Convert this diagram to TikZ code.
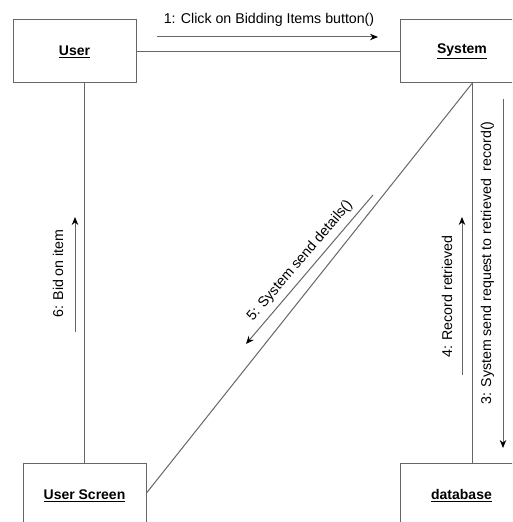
\documentclass[tikz,border=0pt]{standalone}
\usepackage{fontspec}
\setmainfont{Liberation Sans}
\usetikzlibrary{calc,arrows.meta}
\begin{document}
\begin{tikzpicture}[x=1pt,y=1pt,
  obj/.style={draw=black!60, line width=1pt, fill=white, minimum width=123pt,
    minimum height=63pt, inner sep=0pt, font=\fontsize{14}{16}\selectfont\bfseries},
  link/.style={draw=black!60, line width=1pt},
  msg/.style={draw=black!60, line width=1pt, -{Stealth[length=8pt,width=6.5pt,color=black]}},
  lbl/.style={inner sep=0pt, font=\fontsize{14.2}{16}\selectfont}]
  \useasboundingbox (0,0) rectangle (512,522);
  \clip (0,0) rectangle (512,522);

  % objects
  \node[obj] (user) at (74.5,470.5) {\underline{User}};
  \node[obj, minimum width=124pt] (system) at (462,470.5) {\underline{System}};
  \node[obj] (screen) at (84.5,26.5) {\underline{User Screen}};
  \node[obj] (db) at (461.5,26.5) {\underline{database}};

  % links between objects
  \draw[link] (user.east) -- (system.west);
  \draw[link] (screen.north) -- (screen.north |- user.south);
  \coordinate (sysfoot) at ($(system.south)+(10,0)$);
  \draw[link] (sysfoot) -- (sysfoot |- db.north);
  \coordinate (scrright) at ($(screen.east)+(0,2.5)$);
  \draw[link] (scrright) -- (sysfoot);

  % messages
  \coordinate (m1a) at (157,485);
  \coordinate (m1b) at (378,485);
  \draw[msg] (m1a) -- (m1b);
  \node[lbl] (l1) at (269,502) {1: Click on Bidding Items button()};

  \coordinate (m3a) at (503,423);
  \coordinate (m3b) at (503,74);
  \draw[msg] (m3a) -- (m3b);
  \node[lbl, rotate=90] (l3) at (487.5,259) {3: System send request to retrieved\ \ record()};

  \coordinate (m4a) at (462,147);
  \coordinate (m4b) at (462,305);
  \draw[msg] (m4a) -- (m4b);
  \node[lbl, rotate=90] (l4) at (447,225.5) {4: Record retrieved};

  \coordinate (m5a) at (373,327);
  \coordinate (m5b) at (246,178);
  \draw[msg] (m5a) -- (m5b);
  \node[lbl, rotate=49.5] (l5) at (300,261) {5: System send details()};

  \coordinate (m6a) at (75,190);
  \coordinate (m6b) at (75,305);
  \draw[msg] (m6a) -- (m6b);
  \node[lbl, rotate=90] (l6) at (58,248.5) {6: Bid on item};
\end{tikzpicture}
\end{document}
